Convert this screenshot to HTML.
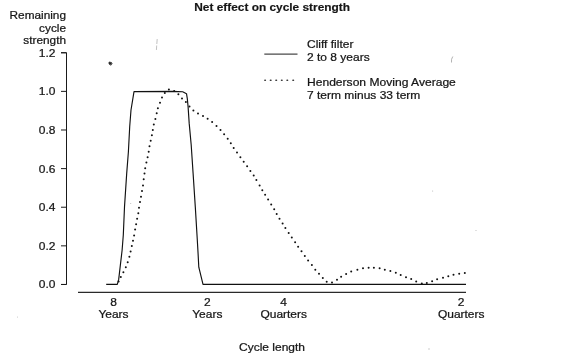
<!DOCTYPE html>
<html><head><meta charset="utf-8">
<style>
html,body{margin:0;padding:0;background:#fff;width:562px;height:359px;overflow:hidden}
svg{display:block;will-change:transform}
text{font-family:"Liberation Sans",sans-serif;font-size:12px;fill:#161616;stroke:#161616}
</style></head>
<body>
<svg width="562" height="359" viewBox="0 0 562 359">
<rect width="562" height="359" fill="#fff"/>
<text transform="matrix(0.99,0,0,0.93,194.3,10.6)" font-weight="bold" stroke-width="0.2">Net effect on cycle strength</text>
<text transform="matrix(0.985,0,0,0.93,66,18.8)" text-anchor="end" stroke-width="0.25">Remaining</text>
<text transform="matrix(0.985,0,0,0.93,66,31.6)" text-anchor="end" stroke-width="0.25">cycle</text>
<text transform="matrix(0.985,0,0,0.93,66,43.8)" text-anchor="end" stroke-width="0.25">strength</text>
<text transform="matrix(1,0,0,0.93,55.5,56.75)" text-anchor="end" stroke-width="0.25">1.2</text>
<text transform="matrix(1,0,0,0.93,55.5,95.37)" text-anchor="end" stroke-width="0.25">1.0</text>
<text transform="matrix(1,0,0,0.93,55.5,133.99)" text-anchor="end" stroke-width="0.25">0.8</text>
<text transform="matrix(1,0,0,0.93,55.5,172.61)" text-anchor="end" stroke-width="0.25">0.6</text>
<text transform="matrix(1,0,0,0.93,55.5,211.23)" text-anchor="end" stroke-width="0.25">0.4</text>
<text transform="matrix(1,0,0,0.93,55.5,249.85)" text-anchor="end" stroke-width="0.25">0.2</text>
<text transform="matrix(1,0,0,0.93,55.5,288.47)" text-anchor="end" stroke-width="0.25">0.0</text>
<text transform="matrix(1,0,0,0.93,113.5,306.2)" text-anchor="middle" stroke-width="0.25">8</text>
<text transform="matrix(1,0,0,0.93,113.5,318)" text-anchor="middle" stroke-width="0.25">Years</text>
<text transform="matrix(1,0,0,0.93,207.3,306.2)" text-anchor="middle" stroke-width="0.25">2</text>
<text transform="matrix(1,0,0,0.93,207.3,318)" text-anchor="middle" stroke-width="0.25">Years</text>
<text transform="matrix(1,0,0,0.93,283.7,306.2)" text-anchor="middle" stroke-width="0.25">4</text>
<text transform="matrix(1,0,0,0.93,283.7,318)" text-anchor="middle" stroke-width="0.25">Quarters</text>
<text transform="matrix(1,0,0,0.93,461.2,306.2)" text-anchor="middle" stroke-width="0.25">2</text>
<text transform="matrix(1,0,0,0.93,461.2,318)" text-anchor="middle" stroke-width="0.25">Quarters</text>
<text transform="matrix(1,0,0,0.93,239,351)" stroke-width="0.25">Cycle length</text>
<text transform="matrix(1,0,0,0.93,307,48.1)" stroke-width="0.25">Cliff filter</text>
<text transform="matrix(1,0,0,0.93,307,60.9)" stroke-width="0.25">2 to 8 years</text>
<text transform="matrix(1.007,0,0,0.93,307,86)" stroke-width="0.25">Henderson Moving Average</text>
<text transform="matrix(1,0,0,0.93,307,98.8)" stroke-width="0.25">7 term minus 33 term</text>

<g stroke="#1a1a1a" fill="none">
<path d="M61,52.75 H66.5 V284.47 H61" stroke-width="1.0"/>
<path d="M61,52.75 H66.5 M61,91.37 H66.5 M61,129.99 H66.5 M61,168.61 H66.5 M61,207.23 H66.5 M61,245.85 H66.5 M61,284.47 H66.5 " stroke-width="1.0"/>
<path d="M78,292.4 H466" stroke-width="1.2" stroke="#2a2a2a"/>
</g>
<path d="M264.3,54 H297.5" stroke="#4a4a4a" stroke-width="1.25"/>
<g fill="#2a2a2a"><ellipse cx="265.1" cy="80.3" rx="1.05" ry="0.75"/><ellipse cx="270.7" cy="80.3" rx="1.05" ry="0.75"/><ellipse cx="276.2" cy="80.3" rx="1.05" ry="0.75"/><ellipse cx="281.8" cy="80.3" rx="1.05" ry="0.75"/><ellipse cx="287.3" cy="80.3" rx="1.05" ry="0.75"/><ellipse cx="293.2" cy="80.3" rx="1.05" ry="0.75"/></g>
<path d="M106.2,284.4 L117.3,284.4 L118.7,279.4 L120.3,265.6 L122.1,250.3 L123.3,235 L124.5,206.9 L126.7,173.4 L128.4,151.8 L129.7,126.7 L131,110 L134,91.6 L173,91.4 L182.7,91.8 L186.5,93.7 L187.3,98.6 L188.1,106.9 L189.2,123.4 L191.2,145 L193.1,173.4 L195.3,206.9 L197.3,240 L198.1,253.9 L198.8,267.2 L203,284.4 L466,284.4" stroke="#111" stroke-width="1.15" fill="none" stroke-linejoin="round"/>
<g fill="#111"><circle cx="118.6" cy="281.5" r="1.0"/><circle cx="120.8" cy="277.1" r="1.0"/><circle cx="123.4" cy="272.2" r="1.0"/><circle cx="125.8" cy="267.3" r="1.0"/><circle cx="127.7" cy="262.3" r="1.0"/><circle cx="129.4" cy="256.8" r="1.0"/><circle cx="130.6" cy="251.4" r="1.0"/><circle cx="131.8" cy="246" r="1.0"/><circle cx="133" cy="240.8" r="1.0"/><circle cx="134.1" cy="235.5" r="1.0"/><circle cx="135.1" cy="229.5" r="1.0"/><circle cx="136.1" cy="224.2" r="1.0"/><circle cx="137.1" cy="218.8" r="1.0"/><circle cx="138.3" cy="213.3" r="1.0"/><circle cx="139" cy="207.7" r="1.0"/><circle cx="140" cy="202" r="1.0"/><circle cx="141" cy="196.7" r="1.0"/><circle cx="142" cy="191.1" r="1.0"/><circle cx="143" cy="185.6" r="1.0"/><circle cx="143.7" cy="179.2" r="1.0"/><circle cx="144.5" cy="173.5" r="1.0"/><circle cx="145.2" cy="168.3" r="1.0"/><circle cx="146.4" cy="162.6" r="1.0"/><circle cx="147.6" cy="157.2" r="1.0"/><circle cx="148.7" cy="151.7" r="1.0"/><circle cx="149.5" cy="146.2" r="1.0"/><circle cx="150.7" cy="140.8" r="1.0"/><circle cx="151.9" cy="135.3" r="1.0"/><circle cx="152.8" cy="129.9" r="1.0"/><circle cx="153.8" cy="124.4" r="1.0"/><circle cx="155.4" cy="118.9" r="1.0"/><circle cx="156.7" cy="113.3" r="1.0"/><circle cx="157.9" cy="108.2" r="1.0"/><circle cx="160" cy="102.7" r="1.0"/><circle cx="162" cy="97.4" r="1.0"/><circle cx="164.8" cy="92.9" r="1.0"/><circle cx="168.9" cy="89.6" r="1.0"/><circle cx="174.2" cy="91" r="1.0"/><circle cx="178.4" cy="94.3" r="1.0"/><circle cx="182" cy="98.4" r="1.0"/><circle cx="185.9" cy="102" r="1.0"/><circle cx="189.5" cy="106.4" r="1.0"/><circle cx="193.4" cy="110.4" r="1.0"/><circle cx="198" cy="113.4" r="1.0"/><circle cx="203" cy="115.9" r="1.0"/><circle cx="207.6" cy="118.8" r="1.0"/><circle cx="212.1" cy="122.1" r="1.0"/><circle cx="216.5" cy="126" r="1.0"/><circle cx="220.5" cy="130.1" r="1.0"/><circle cx="224.1" cy="134.3" r="1.0"/><circle cx="227.7" cy="138.8" r="1.0"/><circle cx="230.8" cy="143.3" r="1.0"/><circle cx="233.7" cy="148" r="1.0"/><circle cx="237" cy="152.5" r="1.0"/><circle cx="240.4" cy="157.2" r="1.0"/><circle cx="243.7" cy="161.7" r="1.0"/><circle cx="247.1" cy="166.3" r="1.0"/><circle cx="250.4" cy="170.9" r="1.0"/><circle cx="253.7" cy="175.6" r="1.0"/><circle cx="256.4" cy="180.1" r="1.0"/><circle cx="259.6" cy="185.5" r="1.0"/><circle cx="262.3" cy="190.2" r="1.0"/><circle cx="265.1" cy="194.8" r="1.0"/><circle cx="268.1" cy="199.5" r="1.0"/><circle cx="271.2" cy="204.5" r="1.0"/><circle cx="274.2" cy="209.2" r="1.0"/><circle cx="276.7" cy="213.9" r="1.0"/><circle cx="279.5" cy="218.7" r="1.0"/><circle cx="282.6" cy="223.4" r="1.0"/><circle cx="285.4" cy="228.1" r="1.0"/><circle cx="288.7" cy="233.1" r="1.0"/><circle cx="291.8" cy="237.6" r="1.0"/><circle cx="295.1" cy="242.2" r="1.0"/><circle cx="298.1" cy="246.8" r="1.0"/><circle cx="301.5" cy="251.2" r="1.0"/><circle cx="304.8" cy="256" r="1.0"/><circle cx="308.1" cy="260.4" r="1.0"/><circle cx="311.9" cy="265" r="1.0"/><circle cx="315.3" cy="269.8" r="1.0"/><circle cx="319" cy="273.8" r="1.0"/><circle cx="322.8" cy="278" r="1.0"/><circle cx="326.7" cy="281.7" r="1.0"/><circle cx="332" cy="282.6" r="1.0"/><circle cx="337" cy="279.7" r="1.0"/><circle cx="341.1" cy="276.8" r="1.0"/><circle cx="346.1" cy="273.9" r="1.0"/><circle cx="351.2" cy="271.4" r="1.0"/><circle cx="357.4" cy="269.7" r="1.0"/><circle cx="363" cy="268.3" r="1.0"/><circle cx="368.6" cy="267.8" r="1.0"/><circle cx="373.9" cy="267.8" r="1.0"/><circle cx="379.6" cy="268.3" r="1.0"/><circle cx="384.8" cy="269.7" r="1.0"/><circle cx="390.4" cy="271" r="1.0"/><circle cx="395.8" cy="272.7" r="1.0"/><circle cx="400.7" cy="274.9" r="1.0"/><circle cx="406" cy="277.15" r="1.0"/><circle cx="411.2" cy="279.1" r="1.0"/><circle cx="416.2" cy="281.5" r="1.0"/><circle cx="421.8" cy="283.4" r="1.0"/><circle cx="426.8" cy="283" r="1.0"/><circle cx="432.1" cy="281.2" r="1.0"/><circle cx="437.1" cy="279.3" r="1.0"/><circle cx="443" cy="277.7" r="1.0"/><circle cx="448.3" cy="276.2" r="1.0"/><circle cx="453.5" cy="274.7" r="1.0"/><circle cx="459.2" cy="273.7" r="1.0"/><circle cx="464.8" cy="273.1" r="1.0"/></g>
<!-- scan specks -->
<path d="M109,62 L111.5,62.5 L112,64 L110.5,65 L109,64 Z" fill="#222" stroke="#333" stroke-width="0.8"/><path d="M111.5,63.5 L113,63.6 M110.6,64.5 L110.8,66" stroke="#999" stroke-width="0.7"/>
<g fill="#bbb"><circle cx="432.6" cy="191" r="0.6"/><circle cx="476" cy="230.5" r="0.6"/><circle cx="429" cy="349" r="0.7"/><circle cx="130.7" cy="203.5" r="0.6"/><circle cx="17.5" cy="317" r="0.5"/></g>
<path d="M157.2,39 L156.8,44 M156.7,45.5 L156.4,50" stroke="#bbb" stroke-width="0.9"/>
<path d="M452.8,56.5 Q451,59 451.5,62.5" stroke="#aaa" stroke-width="0.9" fill="none"/>
</svg>
</body></html>
